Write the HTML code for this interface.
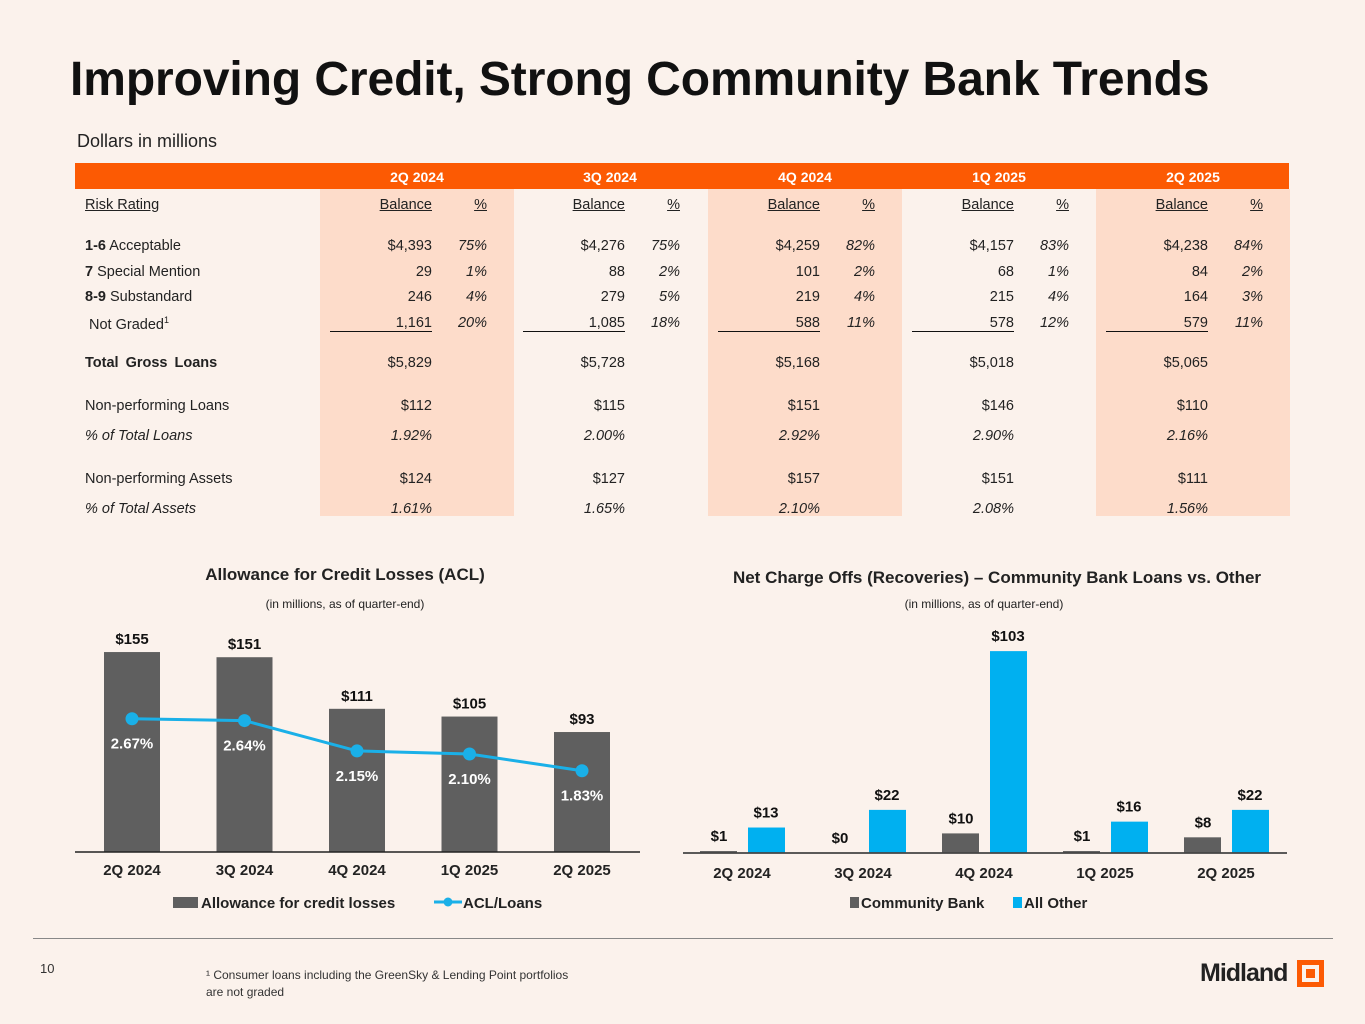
<!DOCTYPE html>
<html><head><meta charset="utf-8"><style>
body{margin:0;width:1365px;height:1024px;background:#fbf2ec;position:relative;overflow:hidden;font-family:"Liberation Sans",Arial,sans-serif;color:#222}
.a{position:absolute;white-space:nowrap}
.t{font-size:14.5px}
.r{text-align:right}
.i{font-style:italic}
.u{text-decoration:underline}
</style></head><body>
<div class="a" style="left:70px;top:52px;font-size:48px;font-weight:bold;color:#111;letter-spacing:-0.1px">Improving Credit, Strong Community Bank Trends</div>
<div class="a" style="left:77px;top:131px;font-size:18px;color:#222">Dollars in millions</div>
<div id="tbl"></div>

<svg class="a" style="left:0;top:540px" width="1365" height="400">
<g id="acl"></g>
<g id="nco"></g>
</svg>

<div class="a" style="left:33px;top:938px;width:1300px;height:1px;background:#888"></div>
<div class="a" style="left:40px;top:961px;font-size:13px;color:#333">10</div>
<div class="a" style="left:206px;top:967px;font-size:12px;color:#333;line-height:17px;white-space:normal;width:420px">¹ Consumer loans including the GreenSky &amp; Lending Point portfolios<br>are not graded</div>
<div class="a" style="left:1200px;top:959px;font-size:25px;font-weight:bold;color:#222;letter-spacing:-1px">Midland</div>
<div class="a" style="left:1297px;top:960px;width:17px;height:17px;border:5px solid #fc5a03;background:#fbf2ec"><div style="position:absolute;left:4px;top:4px;width:9px;height:9px;background:#fc5a03"></div></div>

<script>
const quarters=["2Q 2024","3Q 2024","4Q 2024","1Q 2025","2Q 2025"];
const rowLabels=[["1-6","Acceptable"],["7","Special Mention"],["8-9","Substandard"],["","Not Graded¹"]];
const balances=[["$4,393","29","246","1,161"],["$4,276","88","279","1,085"],["$4,259","101","219","588"],["$4,157","68","215","578"],["$4,238","84","164","579"]];
const pcts=[["75%","1%","4%","20%"],["75%","2%","5%","18%"],["82%","2%","4%","11%"],["83%","1%","4%","12%"],["84%","2%","3%","11%"]];
const totals=["$5,829","$5,728","$5,168","$5,018","$5,065"];
const npl=["$112","$115","$151","$146","$110"];
const nplPct=["1.92%","2.00%","2.92%","2.90%","2.16%"];
const npa=["$124","$127","$157","$151","$111"];
const npaPct=["1.61%","1.65%","2.10%","2.08%","1.56%"];

const acl=[155,151,111,105,93];
const aclRatio=[2.67,2.64,2.15,2.10,1.83];
const ncoCommunity=[1,0,10,1,8];
const ncoOther=[13,22,103,16,22];

const T=document.getElementById('tbl');
function div(name,css,txt,cls){const d=document.createElement('div');d.className='a '+(cls||'');d.style.cssText=css;if(txt!==undefined)d.innerHTML=txt;


T.appendChild(d);return d;}
const gx=[320,513,708,902,1096];
gx.forEach((x,i)=>{ if(i%2==0) div('shade-col-'+i,`left:${x}px;top:189px;width:194px;height:327px;background:#fddcca`); });
div('table-header-bar','left:75px;top:163px;width:1214px;height:26px;background:#fc5a03');
const rowsY=[238,264,289,315];
div('risk-rating-header','left:85px;top:197px','Risk Rating','t u');
div('total-label','left:85px;top:355px;font-weight:bold;word-spacing:3px','Total Gross Loans','t');
div('npl-label','left:85px;top:398px','Non-performing Loans','t');
div('npl-pct-label','left:85px;top:428px','% of Total Loans','t i');
div('npa-label','left:85px;top:471px','Non-performing Assets','t');
div('npa-pct-label','left:85px;top:501px','% of Total Assets','t i');
rowLabels.forEach((r,j)=>div('row-label-'+j,`left:${r[0]?85:89}px;top:${rowsY[j]}px`,(r[0]?'<b>'+r[0]+'</b> ':'')+r[1].replace('¹','<sup style="font-size:9px">1</sup>'),'t'));
quarters.forEach((q,i)=>{const x=gx[i];
 div('header-'+i,`left:${x}px;top:169px;width:194px;text-align:center;color:#fff;font-weight:bold;font-size:14px`,q);
 div('balance-head-'+i,`left:${x}px;top:197px;width:${112}px`,'Balance','t u r');
 div('pct-head-'+i,`left:${x}px;top:197px;width:${167}px`,'%','t u r');
 for(let j=0;j<4;j++){
  div('balance-'+i+'-'+j,`left:${x}px;top:${rowsY[j]}px;width:112px`,balances[i][j],'t r');
  div('pct-'+i+'-'+j,`left:${x}px;top:${rowsY[j]}px;width:167px`,pcts[i][j],'t r i');
 }
 div('underline-'+i,`left:${x+10}px;top:331px;width:102px;height:1px;background:#111`);
 div('total-'+i,`left:${x}px;top:355px;width:112px`,totals[i],'t r');
 div('npl-'+i,`left:${x}px;top:398px;width:112px`,npl[i],'t r');
 div('npl-pct-'+i,`left:${x}px;top:428px;width:112px`,nplPct[i],'t r i');
 div('npa-'+i,`left:${x}px;top:471px;width:112px`,npa[i],'t r');
 div('npa-pct-'+i,`left:${x}px;top:501px;width:112px`,npaPct[i],'t r i');
});

const NS='http://www.w3.org/2000/svg';
function el(p,tag,attrs,txt){const e=document.createElementNS(NS,tag);for(const k in attrs)e.setAttribute(k,attrs[k]);if(txt!==undefined)e.textContent=txt;p.appendChild(e);return e;}
const OY=540;
const A=document.getElementById('acl');
const aBase=852-OY, aScale=1.29;
const ax=i=>132+i*112.5, ay=v=>aBase-v*aScale;
const ry=v=>884-OY-v*61.9;
let t;
t=el(A,'text',{x:345,y:580-OY,'text-anchor':'middle','font-size':17,'font-weight':'bold',fill:'#222'},'Allowance for Credit Losses (ACL)');


t=el(A,'text',{x:345,y:608-OY,'text-anchor':'middle','font-size':12,fill:'#222'},'(in millions, as of quarter-end)');


acl.forEach((v,i)=>{
 const r=el(A,'rect',{x:ax(i)-28,y:ay(v),width:56,height:v*aScale,fill:'#5f5f5f'});
 
 
 const l=el(A,'text',{x:ax(i),y:ay(v)-8,'text-anchor':'middle','font-size':15,'font-weight':'bold',fill:'#111'},'$'+v);
 
 
 const x=el(A,'text',{x:ax(i),y:875-OY,'text-anchor':'middle','font-size':15,'font-weight':'bold',fill:'#222'},quarters[i]);
 
 
});
const axl=el(A,'line',{x1:75,x2:640,y1:aBase,y2:aBase,stroke:'#222','stroke-width':1.5});


const pl=el(A,'polyline',{points:aclRatio.map((v,i)=>ax(i)+','+ry(v)).join(' '),fill:'none',stroke:'#1ab0e8','stroke-width':3});


aclRatio.forEach((v,i)=>{
 const c=el(A,'circle',{cx:ax(i),cy:ry(v),r:6.5,fill:'#1ab0e8'});
 
 
 const l=el(A,'text',{x:ax(i),y:ry(v)+30,'text-anchor':'middle','font-size':15,'font-weight':'bold',fill:'#fff'},v.toFixed(2)+'%');
 
 
});
let g=el(A,'g',{});


el(g,'rect',{x:173,y:897-OY,width:25,height:11,fill:'#5f5f5f'});
el(g,'text',{x:201,y:908-OY,'font-size':15,'font-weight':'bold',fill:'#222'},'Allowance for credit losses');
el(g,'line',{x1:434,x2:462,y1:902-OY,y2:902-OY,stroke:'#1ab0e8','stroke-width':3});
el(g,'circle',{cx:448,cy:902-OY,r:4.5,fill:'#1ab0e8'});
el(g,'text',{x:463,y:908-OY,'font-size':15,'font-weight':'bold',fill:'#222'},'ACL/Loans');

const N=document.getElementById('nco');
const nBase=853-OY,nScale=1.96;
const nx=i=>742+i*121, ny=v=>nBase-v*nScale;
t=el(N,'text',{x:997,y:583-OY,'text-anchor':'middle','font-size':17,'font-weight':'bold',fill:'#222'},'Net Charge Offs (Recoveries) – Community Bank Loans  vs. Other');


t=el(N,'text',{x:984,y:608-OY,'text-anchor':'middle','font-size':12,fill:'#222'},'(in millions, as of quarter-end)');


quarters.forEach((q,i)=>{
 const a=ncoCommunity[i], b=ncoOther[i];
 const r1=el(N,'rect',{x:nx(i)-42,y:ny(a),width:37,height:a*nScale,fill:'#5f5f5f'});
 
 
 const r2=el(N,'rect',{x:nx(i)+6,y:ny(b),width:37,height:b*nScale,fill:'#00b0f0'});
 
 
 const l1=el(N,'text',{x:nx(i)-23,y:ny(a)-10,'text-anchor':'middle','font-size':15,'font-weight':'bold',fill:'#111'},'$'+a);
 
 
 const l2=el(N,'text',{x:nx(i)+24,y:ny(b)-10,'text-anchor':'middle','font-size':15,'font-weight':'bold',fill:'#111'},'$'+b);
 
 
 const x=el(N,'text',{x:nx(i),y:878-OY,'text-anchor':'middle','font-size':15,'font-weight':'bold',fill:'#222'},q);
 
 
});
const nxl=el(N,'line',{x1:683,x2:1287,y1:nBase,y2:nBase,stroke:'#444','stroke-width':1.8});


g=el(N,'g',{});


el(g,'rect',{x:850,y:897-OY,width:9,height:11,fill:'#5f5f5f'});
el(g,'text',{x:861,y:908-OY,'font-size':15,'font-weight':'bold',fill:'#222'},'Community Bank');
el(g,'rect',{x:1013,y:897-OY,width:9,height:11,fill:'#00b0f0'});
el(g,'text',{x:1024,y:908-OY,'font-size':15,'font-weight':'bold',fill:'#222'},'All Other');
</script>
</body></html>
